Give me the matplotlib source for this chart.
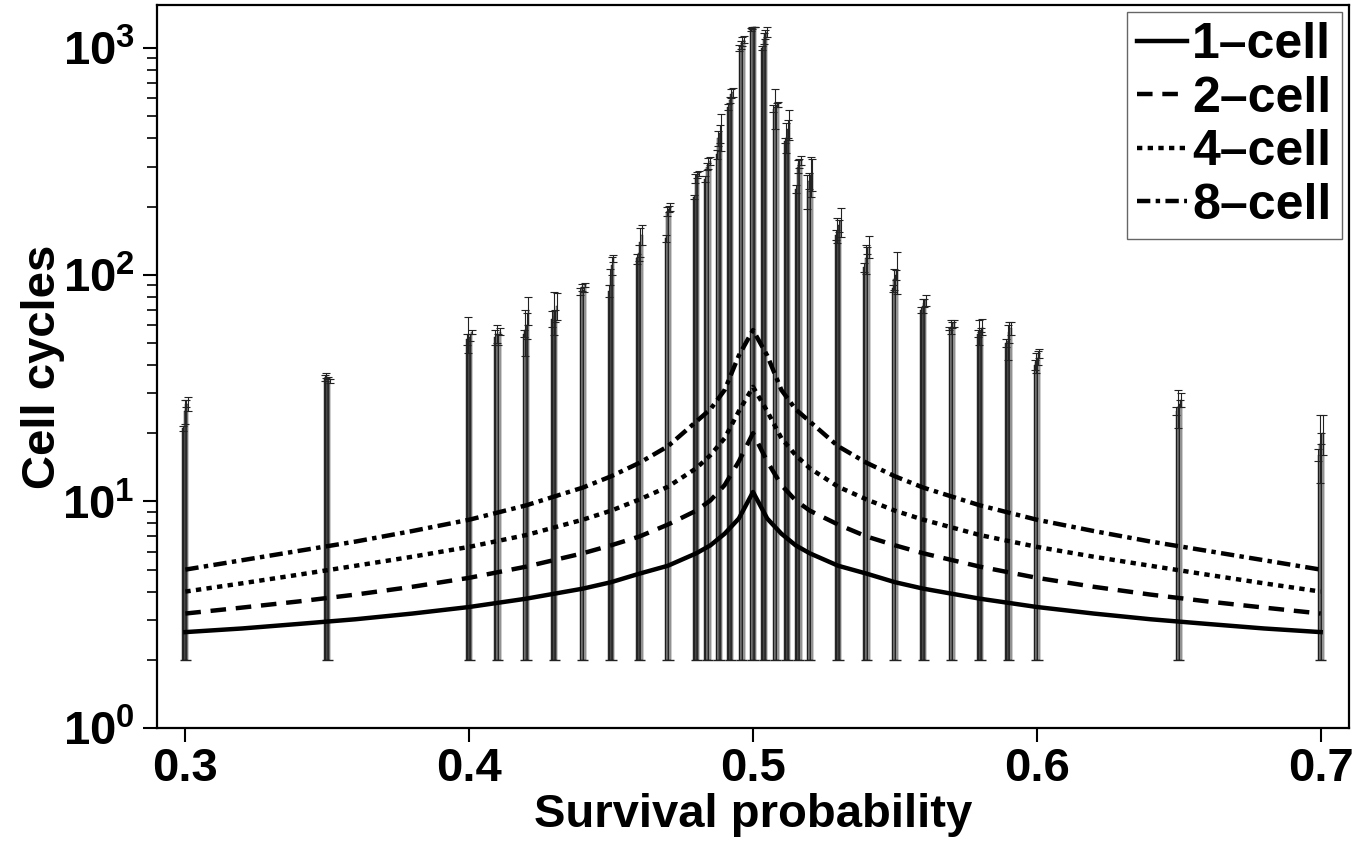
import numpy as np
import matplotlib
matplotlib.use("Agg")
import matplotlib.pyplot as plt
from matplotlib.ticker import FixedLocator, FuncFormatter, LogLocator, NullFormatter

plt.rcParams['font.family'] = ['Liberation Sans', 'DejaVu Sans']
plt.rcParams['font.weight'] = 'bold'
plt.rcParams['mathtext.fontset'] = 'custom'
plt.rcParams['mathtext.bf'] = 'Liberation Sans:bold'
plt.rcParams['mathtext.rm'] = 'Liberation Sans:bold'

# bar positions (survival probability)
bar_x = [0.30, 0.35, 0.40, 0.41, 0.42, 0.43, 0.44, 0.45, 0.46, 0.47, 0.48,
         0.484, 0.488, 0.492, 0.496, 0.50, 0.504, 0.508, 0.512, 0.516, 0.52,
         0.53, 0.54, 0.55, 0.56, 0.57, 0.58, 0.59, 0.60, 0.65, 0.70]

# simulated cell cycles, one bar per cell stage at each position
bars_1cell = [21, 35, 52, 53, 55, 64, 84, 85, 118, 145, 220,
              265, 340, 550, 1000, 1210, 1000, 540, 390, 240, 235,
              150, 108, 87, 70, 58, 55, 50, 40, 25, 16]
bars_2cell = [25, 36, 55, 55, 57, 69, 88, 98, 125, 190, 265,
              300, 400, 590, 1030, 1230, 1100, 550, 405, 300, 260,
              158, 118, 96, 73, 59, 56, 51, 41, 26, 18]
bars_4cell = [27, 35, 53, 52, 60, 66, 86, 110, 140, 195, 275,
              310, 420, 630, 1070, 1240, 1150, 560, 440, 310, 275,
              165, 128, 100, 75, 60, 57, 56, 43, 27, 19]
bars_8cell = [27, 34, 56, 56, 70, 73, 90, 118, 150, 200, 280,
              318, 430, 640, 1090, 1240, 1180, 565, 465, 320, 280,
              172, 133, 104, 77, 61, 59, 58, 45, 28, 20]

err_1cell = [0.5, 1, 3, 4, 2, 5, 3, 5, 6, 5, 5,
             8, 15, 15, 30, 20, 20, 20, 10, 10, 40,
             8, 5, 3, 2, 1, 2, 2, 2, 1, 1]
err_2cell = [3, 0.8, 10, 5, 13, 15, 3, 8, 10, 8, 12,
             10, 30, 20, 40, 10, 60, 110, 60, 20, 20,
             20, 17, 10, 5, 4, 7, 9, 4, 5, 6]
err_4cell = [1, 0.5, 2, 3, 8, 4, 2, 10, 20, 6, 8,
             16, 40, 30, 50, 5, 50, 10, 40, 15, 55,
             10, 5, 5, 3, 2, 1, 6, 3, 1, 1]
err_8cell = [2, 0.6, 1, 2, 10, 10, 2, 4, 15, 8, 8,
             12, 80, 30, 40, 5, 60, 15, 70, 15, 45,
             25, 15, 22, 4, 2, 5, 4, 2, 2, 4]

# model curves
line_x = [0.30, 0.32, 0.34, 0.36, 0.38, 0.40, 0.42, 0.44, 0.45, 0.46, 0.47,
          0.48, 0.485, 0.49, 0.495, 0.50, 0.505, 0.51, 0.515, 0.52, 0.53,
          0.54, 0.55, 0.56, 0.58, 0.60, 0.62, 0.64, 0.66, 0.68, 0.70]
line_1cell = [2.65, 2.75, 2.88, 3.02, 3.2, 3.42, 3.72, 4.12, 4.4, 4.8, 5.2,
              5.9, 6.4, 7.2, 8.4, 11.0, 8.4, 7.2, 6.4, 5.9, 5.2,
              4.8, 4.4, 4.12, 3.72, 3.42, 3.2, 3.02, 2.88, 2.75, 2.65]
line_2cell = [3.2, 3.4, 3.62, 3.88, 4.2, 4.6, 5.15, 5.9, 6.4, 7.0, 7.9,
              9.1, 10.1, 11.8, 15.0, 20.0, 15.0, 11.8, 10.1, 9.1, 7.9,
              7.0, 6.4, 5.9, 5.15, 4.6, 4.2, 3.88, 3.62, 3.4, 3.2]
line_4cell = [4.0, 4.35, 4.75, 5.2, 5.7, 6.3, 7.1, 8.3, 9.1, 10.2, 11.6,
              14.0, 16.0, 19.0, 25.0, 32.0, 25.0, 19.0, 16.0, 14.0, 11.6,
              10.2, 9.1, 8.3, 7.1, 6.3, 5.7, 5.2, 4.75, 4.35, 4.0]
line_8cell = [5.0, 5.5, 6.05, 6.65, 7.4, 8.3, 9.6, 11.5, 12.9, 14.8, 17.5,
              22.5, 25.5, 31.0, 44.0, 57.0, 44.0, 31.0, 25.5, 22.5, 17.5,
              14.8, 12.9, 11.5, 9.6, 8.3, 7.4, 6.65, 6.05, 5.5, 5.0]

labels = ['1\u2013cell', '2\u2013cell', '4\u2013cell', '8\u2013cell']

fig = plt.figure(figsize=(13.71, 8.52), dpi=100)
ax = fig.add_axes([0.1145, 0.1455, 0.8695, 0.8487])

bx = np.array(bar_x)
w = 0.00055
bar_sets = [bars_1cell, bars_2cell, bars_4cell, bars_8cell]
err_sets = [err_1cell, err_2cell, err_4cell, err_8cell]
bar_cols = ['#2e2e2e', '#8a8a8a', '#3c3c3c', '#b4b4b4']
for i, (vals, errs, col) in enumerate(zip(bar_sets, err_sets, bar_cols)):
    xs = bx + (i - 1.5) * w
    vals = np.array(vals, dtype=float)
    ax.bar(xs, vals - 2, bottom=2, width=w, color=col,
           edgecolor='#111111', linewidth=0.3, zorder=2)
    ax.errorbar(xs, vals, yerr=errs, fmt='none', ecolor='#222222',
                elinewidth=0.8, capsize=3, capthick=0.8, zorder=3)
ax.hlines(np.full(len(bx), 2.0), bx - 0.002, bx + 0.002,
          color='#222222', lw=1.0, zorder=3)

styles = ['-', (0, (3.5, 2.2)), (0, (1.2, 1.2)), (0, (3, 1.2, 1, 1.2))]
for ys, ls, lab in zip([line_1cell, line_2cell, line_4cell, line_8cell], styles, labels):
    ax.plot(line_x, ys, color='black', lw=3.2, ls=ls, label=lab, zorder=4)

ax.set_yscale('log')
ax.set_xlim(0.29, 0.71)
ax.set_ylim(1, 1550)

ax.xaxis.set_major_locator(FixedLocator([0.3, 0.4, 0.5, 0.6, 0.7]))
ax.xaxis.set_major_formatter(FuncFormatter(lambda v, p: '%.1f' % v))
ax.yaxis.set_major_locator(FixedLocator([1, 10, 100, 1000]))
ax.yaxis.set_major_formatter(FuncFormatter(
    lambda v, p: r'$\mathbf{10^{%d}}$' % int(round(np.log10(v)))))
ax.yaxis.set_minor_locator(LogLocator(base=10, subs=np.arange(2, 10)))
ax.yaxis.set_minor_formatter(NullFormatter())

ax.tick_params(axis='both', which='major', direction='out', length=10,
               width=1.5, labelsize=34, pad=6)
ax.tick_params(axis='x', which='major', pad=4)
ax.tick_params(axis='y', which='minor', direction='out', length=7, width=1.2)
ax.tick_params(axis='x', which='minor', bottom=False)
for s in ax.spines.values():
    s.set_linewidth(1.6)

ax.set_xlabel('Survival probability', fontsize=34, fontweight='bold', labelpad=1)
ax.set_ylabel('Cell cycles', fontsize=34, fontweight='bold', labelpad=-2)

leg = ax.legend(loc='upper right', fontsize=36, handlelength=1.0,
                handletextpad=0.1, labelspacing=0.15, borderpad=0.2,
                borderaxespad=0.15, fancybox=False, framealpha=1)
leg.get_frame().set_edgecolor('#666666')
leg.get_frame().set_linewidth(1.0)
for t in leg.get_texts():
    t.set_fontweight('bold')

fig.savefig('out.png', dpi=100)
